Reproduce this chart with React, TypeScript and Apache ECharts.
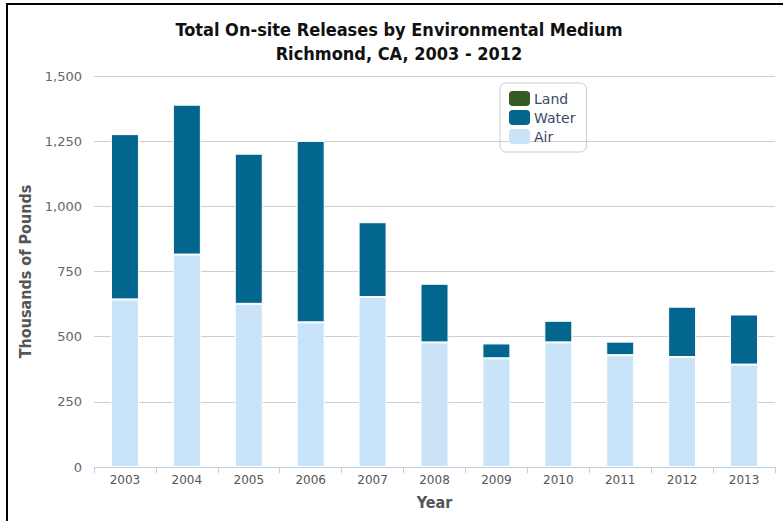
import React, { useEffect, useRef } from "react";
import * as echarts from "echarts";

const years = ["2003", "2004", "2005", "2006", "2007", "2008", "2009", "2010", "2011", "2012", "2013"];
const airValues = [643, 815, 626, 555, 652, 478, 417, 478, 429, 422, 393];
const waterValues = [634, 575, 576, 696, 287, 225, 57, 83, 52, 193, 192];
const landValues = [0, 0, 0, 0, 0, 0, 0, 0, 0, 0, 0];
const yTicks = { min: 0, max: 1500, interval: 250 };

const FONT = "'DejaVu Sans Condensed', 'Liberation Sans', sans-serif";
const FONT_WIDE = "'DejaVu Sans', 'Liberation Sans', sans-serif";

export default function App() {
  const ref = useRef<HTMLDivElement>(null);
  useEffect(() => {
    if (!ref.current) return;
    const chart = echarts.init(ref.current, null, { renderer: "svg" });
    chart.setOption({
      animation: false,
      backgroundColor: "#ffffff",
      textStyle: { fontFamily: FONT },
      title: {
        text: "Total On-site Releases by Environmental Medium\nRichmond, CA, 2003 - 2012",
        left: 394,
        textAlign: "center",
        top: 12,
        textStyle: {
          fontFamily: FONT,
          fontSize: 18,
          fontWeight: "bold",
          color: "#111111",
          lineHeight: 24,
        },
      },
      legend: {
        data: ["Land", "Water", "Air"],
        orient: "vertical",
        left: 500,
        top: 83,
        padding: [8, 11, 8, 9],
        itemWidth: 21,
        itemHeight: 15,
        itemGap: 4,
        itemStyle: { borderWidth: 0 },
        icon: "roundRect",
        borderColor: "#cccccc",
        borderWidth: 1,
        borderRadius: 6,
        textStyle: { fontFamily: FONT_WIDE, fontSize: 14, color: "#3b4a66", padding: [0, 0, 0, -1] },
      },
      grid: { left: 94, right: 8, top: 76, bottom: 54 },
      xAxis: {
        type: "category",
        data: years,
        name: "Year",
        nameLocation: "middle",
        nameGap: 27,
        nameTextStyle: { fontFamily: FONT, fontSize: 16, fontWeight: "bold", color: "#555555" },
        axisLine: { show: true, lineStyle: { color: "#c0d0e0", width: 1 } },
        axisTick: { show: true, length: 6, lineStyle: { color: "#c0d0e0" } },
        axisLabel: { fontFamily: FONT_WIDE, fontSize: 12, color: "#555555", margin: 7 },
      },
      yAxis: {
        type: "value",
        min: yTicks.min,
        max: yTicks.max,
        interval: yTicks.interval,
        name: "Thousands of Pounds",
        nameLocation: "middle",
        nameGap: 57,
        nameTextStyle: { fontFamily: FONT, fontSize: 16, fontWeight: "bold", color: "#555555" },
        axisLine: { show: false },
        axisTick: { show: false },
        axisLabel: {
          fontFamily: FONT_WIDE,
          fontSize: 13,
          color: "#666666",
          margin: 12,
          formatter: (v: number) => v.toLocaleString("en-US"),
        },
        splitLine: { lineStyle: { color: "#cfcfcf", width: 1 } },
      },
      series: [
        {
          name: "Air",
          type: "bar",
          stack: "total",
          data: airValues,
          barWidth: 28,
          itemStyle: { color: "#c9e3f8", borderColor: "#ffffff", borderWidth: 1 },
        },
        {
          name: "Water",
          type: "bar",
          stack: "total",
          data: waterValues,
          barWidth: 28,
          itemStyle: { color: "#03668f", borderColor: "#ffffff", borderWidth: 1 },
        },
        {
          name: "Land",
          type: "bar",
          stack: "total",
          data: landValues,
          barWidth: 28,
          itemStyle: { color: "#355a23", borderColor: "#ffffff", borderWidth: 0 },
        },
      ],
      graphic: [
        { type: "rect", shape: { x: 6, y: 3, width: 2, height: 518 }, style: { fill: "#000000" } },
        { type: "rect", shape: { x: 6, y: 3, width: 777, height: 2 }, style: { fill: "#000000" } },
      ],
    });
    return () => chart.dispose();
  }, []);
  return (
    <div
      ref={ref}
      style={{ position: "fixed", left: 0, top: 0, width: 783, height: 521 }}
    />
  );
}
